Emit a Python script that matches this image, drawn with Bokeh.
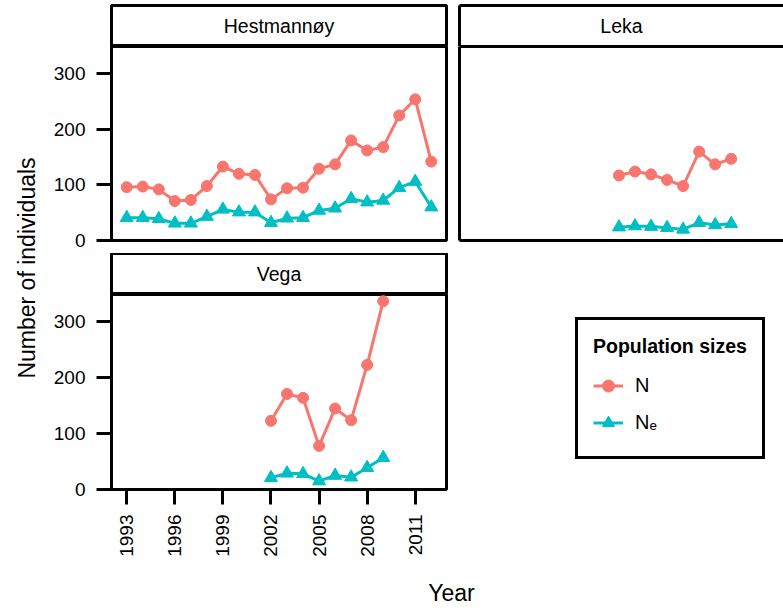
import math
from bokeh.plotting import figure
from bokeh.layouts import row, column
from bokeh.models import Range1d, FixedTicker, Legend, LegendItem, LinearAxis
from bokeh.core.properties import value
from bokeh.embed import file_html
from bokeh.resources import INLINE

# ---------------- data ----------------
hest_years = list(range(1993, 2013))
hest_N = [96, 97, 92, 71, 73, 98, 133, 120, 118, 74, 94, 95, 129, 137, 180, 162, 168, 225, 254, 142]
hest_Ne = [41, 41, 39, 31, 31, 43, 56, 51, 51, 32, 40, 41, 54, 58, 75, 69, 72, 95, 106, 60]
leka_years = list(range(2002, 2010))
leka_N = [117, 124, 119, 109, 98, 160, 137, 147]
leka_Ne = [24, 26, 25, 23, 20, 32, 28, 30]
vega_years = list(range(2002, 2010))
vega_N = [123, 171, 164, 78, 145, 124, 223, 337]
vega_Ne = [21, 29, 28, 15, 25, 22, 39, 57]
y_ticks = [0, 100, 200, 300]
x_ticks = [1993, 1996, 1999, 2002, 2005, 2008, 2011]
panel_names = ["Hestmannøy", "Leka", "Vega"]
series_labels = ["N", "Nₑ"]
legend_title = "Population sizes"
x_title = "Year"
y_title = "Number of individuals"

# ---------------- style ----------------
FONT = "Liberation Sans"
RED = "#F8766D"
TEAL = "#00BFC4"
TICK_FS = "19px"
STRIP_FS = "19.5px"
TITLE_FS = "23px"
X0, X1 = 1992.05, 2012.95
YR = (0, 349)
YT_W = 44            # width of the y-title strip
LB = 111 - YT_W      # left border of the left-hand panels


def fig(width, height, xr, yr, l, r, t, b, outline=True):
    p = figure(width=width, height=height, x_range=xr, y_range=yr,
               output_backend="svg", toolbar_location=None, title=None,
               x_axis_location=None, y_axis_location=None,
               min_border_left=l, min_border_right=r,
               min_border_top=t, min_border_bottom=b)
    p.xgrid.visible = False
    p.ygrid.visible = False
    p.background_fill_color = "white"
    p.border_fill_color = "white"
    if outline:
        p.outline_line_color = "black"
        p.outline_line_width = 3
    else:
        p.outline_line_color = None
    return p


def line_axis(p, side):
    ax = LinearAxis(ticker=FixedTicker(ticks=[]), axis_line_width=3,
                    axis_line_color="black", major_tick_out=0, major_tick_in=0,
                    minor_tick_out=0, minor_tick_in=0,
                    major_label_text_font_size="0px")
    p.add_layout(ax, side)


def y_axis(p):
    ax = LinearAxis(ticker=FixedTicker(ticks=y_ticks))
    ax.axis_line_color = None
    ax.major_tick_line_width = 3
    ax.major_tick_line_color = "black"
    ax.major_tick_out = 15
    ax.major_tick_in = 0
    ax.minor_tick_line_color = None
    ax.major_label_standoff = 11
    ax.major_label_text_font = FONT
    ax.major_label_text_font_size = TICK_FS
    ax.major_label_text_color = "black"
    p.add_layout(ax, "left")


def x_axis(p):
    ax = LinearAxis(ticker=FixedTicker(ticks=x_ticks))
    ax.axis_line_color = None
    ax.major_tick_line_width = 3
    ax.major_tick_line_color = "black"
    ax.major_tick_out = 15
    ax.major_tick_in = 0
    ax.minor_tick_line_color = None
    ax.major_label_standoff = 10
    ax.major_label_orientation = math.pi / 2
    ax.major_label_text_font = FONT
    ax.major_label_text_font_size = TICK_FS
    ax.major_label_text_color = "black"
    p.add_layout(ax, "below")


def series(p, years, n, ne):
    l1 = p.line(years, n, line_color=RED, line_width=3)
    s1 = p.scatter(years, n, marker="circle", size=11, fill_color=RED, line_color=RED)
    l2 = p.line(years, ne, line_color=TEAL, line_width=3)
    s2 = p.scatter(years, ne, marker="triangle", size=13, fill_color=TEAL, line_color=TEAL)
    return (l1, s1, l2, s2)


def strip(width, height, l, r, t, b, label, outline=True):
    p = fig(width, height, Range1d(0, 1), Range1d(0, 1), l, r, t, b, outline=outline)
    p.text(x=[0.5], y=[0.5], text=[label], text_align="center", text_baseline="middle",
           text_font=value(FONT), text_font_size=value(STRIP_FS), text_color="black")
    return p


LW = LB + 335 + 6          # width of the left column figures
RW = 783 - YT_W - LW       # width of the right column figures

# ---------------- top row ----------------
hest_strip = strip(LW, 46, LB, 6, 5, 0, panel_names[0])
leka_strip = strip(RW, 46, 7, 0, 5, 0, panel_names[1], outline=False)
for side in ("left", "above", "below"):
    line_axis(leka_strip, side)

hest = fig(LW, 207, Range1d(X0, X1), Range1d(*YR), LB, 6, 0, 13)
y_axis(hest)
series(hest, hest_years, hest_N, hest_Ne)

leka_x1 = X0 + (X1 - X0) * (RW - 7) / 335.0
leka = fig(RW, 207, Range1d(X0, leka_x1), Range1d(*YR), 7, 0, 0, 13, outline=False)
for side in ("left", "above", "below"):
    line_axis(leka, side)
series(leka, leka_years, leka_N, leka_Ne)

# ---------------- bottom row ----------------
vega_strip = strip(LW, 41, LB, 6, 0, 0, panel_names[2])

vega = fig(LW, 265, Range1d(X0, X1), Range1d(*YR), LB, 6, 0, 70)
y_axis(vega)
x_axis(vega)
series(vega, vega_years, vega_N, vega_Ne)

# legend panel: the key renderers carry the Vega data but lie outside its view
leg_fig = fig(RW, 306, Range1d(0, 1), Range1d(0, 1), 0, 0, 0, 0, outline=False)
k1, k2, k3, k4 = series(leg_fig, vega_years, vega_N, vega_Ne)
legend = Legend(items=[LegendItem(label=series_labels[0], renderers=[k1, k2]),
                       LegendItem(label=series_labels[1], renderers=[k3, k4])],
                location=(575 - 452, 100), title=legend_title)
legend.title_text_font = FONT
legend.title_text_font_style = "bold"
legend.title_text_font_size = "19.5px"
legend.title_text_color = "black"
legend.title_standoff = 9
legend.label_text_font = FONT
legend.label_text_font_size = "20px"
legend.label_text_color = "black"
legend.label_standoff = 12
legend.glyph_width = 30
legend.glyph_height = 37
legend.label_height = 37
legend.spacing = 0
legend.padding = 15
legend.margin = 0
legend.border_line_color = "black"
legend.border_line_width = 3
legend.border_line_alpha = 1
legend.background_fill_color = "white"
legend.background_fill_alpha = 1
leg_fig.add_layout(legend, "center")

# ---------------- axis titles ----------------
ytitle = fig(YT_W, 610, Range1d(0, YT_W), Range1d(610, 0), 0, 0, 0, 0, outline=False)
ytitle.text(x=[26], y=[267.5], text=[y_title], angle=math.pi / 2,
            text_align="center", text_baseline="middle",
            text_font=value(FONT), text_font_size=value(TITLE_FS), text_color="black")

xtitle = fig(783 - YT_W, 51, Range1d(YT_W, 783), Range1d(610, 559), 0, 0, 0, 0, outline=False)
xtitle.text(x=[451], y=[592.5], text=[x_title], text_align="center",
            text_baseline="middle",
            text_font=value(FONT), text_font_size=value(TITLE_FS), text_color="black")

main = column(row(hest_strip, leka_strip), row(hest, leka),
              row(column(vega_strip, vega), leg_fig), xtitle)
root = row(ytitle, main)

open("out.html", "w").write(file_html(root, INLINE))
